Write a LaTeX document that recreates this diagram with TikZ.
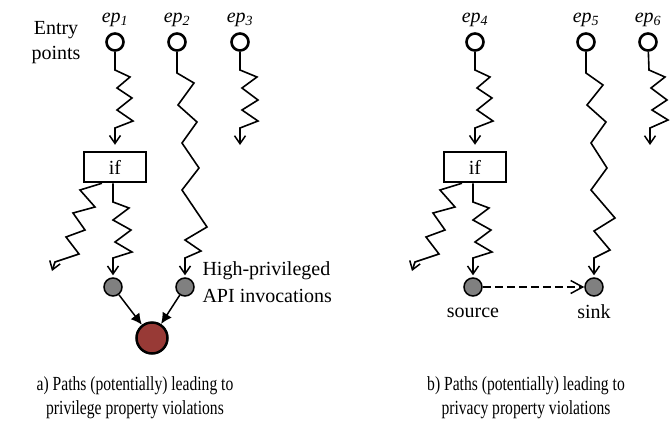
\documentclass[tikz,border=0pt]{standalone}
\usepackage{fontspec}
\setmainfont{Liberation Serif}
\newfontfamily\capfont[FakeStretch=0.78]{Liberation Serif}
\usetikzlibrary{arrows.meta}

\definecolor{violred}{RGB}{152,58,54}
\definecolor{apigray}{RGB}{128,128,128}

\begin{document}
\begin{tikzpicture}[
    x=1pt,y=-1pt,
    font=\fontsize{20}{25}\selectfont,
  entry/.style={circle, draw, line width=2.6pt, minimum size=17pt, inner sep=0pt},
    api/.style={circle, draw, line width=1.5pt, fill=apigray, minimum size=18pt, inner sep=0pt},
    viol/.style={circle, draw, line width=2.5pt, fill=violred, minimum size=31pt, inner sep=0pt},
    cond/.style={rectangle, draw, line width=2.5pt, minimum width=62pt, minimum height=30pt, inner sep=0pt},
    wig/.style={draw, line width=1.6pt, line join=miter, -{Straight Barb[length=8pt,width=11pt,line width=1.5pt]}},
    flow/.style={draw, line width=1.5pt, dash pattern=on 8pt off 4pt, -{Straight Barb[length=12pt,width=13pt,line width=1.5pt]}},
    hit/.style={draw, line width=1.5pt, -{Latex[length=11pt,width=11pt]}},
    every label/.style={inner sep=0pt}
]

\useasboundingbox (0,0) rectangle (670,429);

% a) privilege
\node[align=center] (entrytxt) at (56,43) {Entry\\points};

\node[entry, label={[label distance=5pt]above:\textit{ep\textsubscript{1}}}] (ep1) at (115,42) {};
\node[entry, label={[label distance=5pt]above:\textit{ep\textsubscript{2}}}] (ep2) at (177,42) {};
\node[entry, label={[label distance=5pt]above:\textit{ep\textsubscript{3}}}] (ep3) at (240,42) {};

\node[cond] (if1) at (115,167) {if};

\node[api] (api1) at (113,287) {};
\node[api] (api2) at (185,287) {};
\node[viol] (priv) at (152,338) {};

\node[align=left, anchor=west] (apitxt) at (199,282) {High-privileged\\[2pt]API invocations};

\coordinate (end3) at (240,145);
\coordinate (lost1) at (52,271);

% paths from the entry points
\draw[wig, shorten >=6pt] (ep1) -- (115,70) -- (130,77) -- (117,88) -- (132,98) -- (117,110) -- (133,121) -- (115,128) -- (if1);
\draw[wig, shorten >=2pt] (ep2) -- (177,73) -- (194,83) -- (178,105) -- (197,122) -- (182,143) -- (199,168) -- (182,190) -- (207,227) -- (185,240) -- (201,251) -- (185,258) -- (api2);
\draw[wig] (ep3) -- (240,70) -- (257,77) -- (242,88) -- (258,100) -- (242,110) -- (258,121) -- (240,128) -- (end3);

% branches of the if
\draw[wig] ([xshift=-13pt]if1.south) -- (80,190) -- (95,207) -- (73,213) -- (85,230) -- (66,237) -- (79,254) -- (55,262) -- (lost1);
\draw[wig, shorten >=2pt] ([xshift=-2pt]if1.south) -- (113,202) -- (129,208) -- (113,220) -- (131,230) -- (115,242) -- (132,252) -- (113,258) -- (api1);

\draw[hit] (api1) -- (priv);
\draw[hit] (api2) -- (priv);

\node[align=center, font=\capfont\fontsize{20}{24}\selectfont] (capa) at (135,398) {a) Paths (potentially) leading to\\privilege property violations};

% b) privacy
\node[entry, label={[label distance=5pt]above:\textit{ep\textsubscript{4}}}] (ep4) at (475,42) {};
\node[entry, label={[label distance=5pt]above:\textit{ep\textsubscript{5}}}] (ep5) at (586,42) {};
\node[entry, label={[label distance=5pt]above:\textit{ep\textsubscript{6}}}] (ep6) at (648,42) {};

\node[cond] (if2) at (475,167) {if};

\node[api, label={[label distance=11pt]below:source}] (src) at (473,287) {};
\node[api, label={[label distance=8pt]below:sink}] (sink) at (594,287) {};

\coordinate (end6) at (650,145);
\coordinate (lost2) at (412,271);

\draw[wig, shorten >=6pt] (ep4) -- (475,70) -- (490,77) -- (477,88) -- (492,98) -- (477,110) -- (493,121) -- (475,128) -- (if2);
\draw[wig, shorten >=2pt] (ep5) -- (586,73) -- (603,85) -- (587,105) -- (606,122) -- (591,143) -- (607,168) -- (591,190) -- (615,218) -- (594,231) -- (610,250) -- (594,258) -- (sink);
\draw[wig] (ep6) -- (649,70) -- (665,77) -- (651,88) -- (667,100) -- (652,110) -- (668,120) -- (650,128) -- (end6);

\draw[wig] ([xshift=-13pt]if2.south) -- (440,190) -- (455,207) -- (433,213) -- (445,230) -- (426,237) -- (439,254) -- (415,262) -- (lost2);
\draw[wig, shorten >=2pt] ([xshift=-2pt]if2.south) -- (473,202) -- (489,208) -- (473,220) -- (491,230) -- (475,242) -- (492,252) -- (473,258) -- (src);

% source to sink
\draw[flow] (src) -- (sink);

\node[align=center, font=\capfont\fontsize{20}{24}\selectfont] (capb) at (526,398) {b) Paths (potentially) leading to\\privacy property violations};

\end{tikzpicture}
\end{document}
